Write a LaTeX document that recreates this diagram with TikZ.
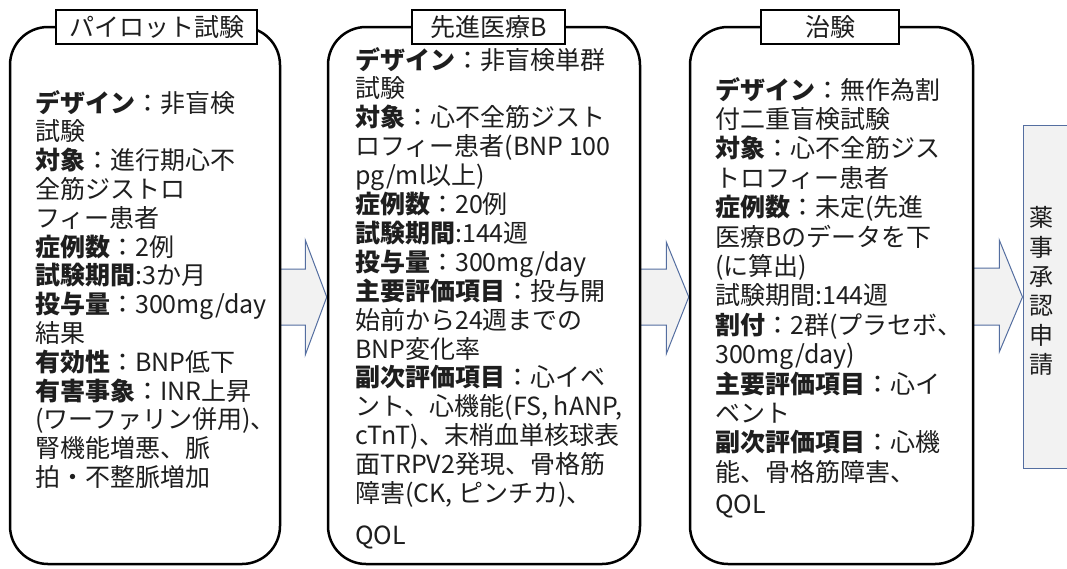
\documentclass[tikz,border=0pt]{standalone}
\usepackage{fontspec}
\setmainfont{Noto Sans CJK JP}
\usetikzlibrary{calc}
\definecolor{arrowblue}{RGB}{84,110,160}
\definecolor{lightfill}{RGB}{242,242,242}
\definecolor{textgray}{RGB}{30,30,30}
\pgfdeclarelayer{bg}
\pgfsetlayers{bg,main}
\begin{document}
\begin{tikzpicture}[x=1pt,y=-1pt,
  bigbox/.style={draw=black, line width=2.5pt, fill=white, rounded corners=38pt,
    minimum width=#1, minimum height=537pt, inner sep=0pt},
  titlebox/.style={draw=black, line width=1.5pt, fill=white, minimum width=#1,
    minimum height=34pt, inner sep=0pt, text=textgray, font=\fontsize{25}{29}\selectfont},
  appbox/.style={draw=arrowblue, line width=1pt, fill=lightfill,
    minimum width=80pt, minimum height=343pt, inner sep=0pt},
  barrow/.style={draw=arrowblue, line width=1pt, fill=lightfill, line join=miter},
  txt/.style={anchor=base west, inner sep=0pt, text=textgray, font=\fontsize{25}{29}\selectfont}]
\useasboundingbox (0,0) rectangle (1067,568);

% main boxes
\node[bigbox=270pt] (b1) at (145,295.5) {};
\node[bigbox=312pt] (b2) at (484,295.5) {};
\node[bigbox=283pt] (b3) at (831.5,295.5) {};
\node[appbox] (b4) at (1063,296.5) {};

% block arrows (behind boxes)
\begin{pgfonlayer}{bg}
\fill[white] (0,0) rectangle (1067,568);
\draw[barrow] ($(b1.east)+(-3,-26.5)$) -- ++(27,0) -- ++(0,-29) -- ($(b2.west)+(0,1.5)$)
  -- ($(b1.east)+(24,59.5)$) -- ++(0,-30) -- ($(b1.east)+(-3,29.5)$) -- cycle;
\draw[barrow] ($(b2.east)+(-3,-26.5)$) -- ++(28,0) -- ++(0,-27) -- ($(b3.west)+(0,1.5)$)
  -- ($(b2.east)+(25,58.5)$) -- ++(0,-29) -- ($(b2.east)+(-3,29.5)$) -- cycle;
\draw[barrow] ($(b3.east)+(-3,-27.5)$) -- ++(28,0) -- ++(0,-28) -- ($(b4.west)+(0,0.5)$)
  -- ($(b3.east)+(25,56.5)$) -- ++(0,-27) -- ($(b3.east)+(-3,29.5)$) -- cycle;
\end{pgfonlayer}

% titles
\node[titlebox=201pt] (t1) at (156.5,27) {パイロット試験};
\node[titlebox=153pt] (t2) at (488.5,27) {先進医療B};
\node[titlebox=138pt] (t3) at (830,27) {治験};

% box 1 text
\foreach \t [count=\i from 0] in {
  \textbf{デザイン}：非盲検,
  試験,
  \textbf{対象}：進行期心不,
  全筋ジストロ,
  フィー患者,
  \textbf{症例数}：2例,
  \textbf{試験期間}:3か月,
  \textbf{投与量}：300mg/day,
  結果,
  \textbf{有効性}：BNP低下,
  \textbf{有害事象}：INR上昇,
  (ワーファリン併用)、,
  腎機能増悪、脈,
  拍・不整脈増加}
  {\node[txt, name=pa\i] at (35,112+28.8*\i) {\t};}

% box 2 text
\foreach \t [count=\i from 0] in {
  \textbf{デザイン}：非盲検単群,
  試験,
  \textbf{対象}：心不全筋ジスト,
  ロフィー患者(BNP 100,
  pg/ml以上),
  \textbf{症例数}：20例,
  \textbf{試験期間}:144週,
  \textbf{投与量}：300mg/day,
  \textbf{主要評価項目}：投与開,
  始前から24週までの,
  BNP変化率,
  \textbf{副次評価項目}：心イベ,
  {ント、心機能(FS, hANP,},
  cTnT)、末梢血単核球表,
  面TRPV2発現、骨格筋,
  {障害(CK, ピンチカ)、}}
  {\node[txt, name=sb\i] at (355,69+28.9*\i) {\t};}
\node[txt] (sbq) at (355,544) {QOL};

% box 3 text
\foreach \t [count=\i from 0] in {
  \textbf{デザイン}：無作為割,
  付二重盲検試験,
  \textbf{対象}：心不全筋ジス,
  トロフィー患者,
  \textbf{症例数}：未定(先進,
  医療Bのデータを下,
  (に算出),
  試験期間:144週,
  \textbf{割付}：2群(プラセボ、,
  300mg/day),
  \textbf{主要評価項目}：心イ,
  ベント,
  \textbf{副次評価項目}：心機,
  能、骨格筋障害、}
  {\node[txt, name=ch\i] at (715,99+29.4*\i) {\t};}
\node[txt] (chq) at (715,513) {QOL};

% approval text
\node[inner sep=0pt, align=center, text=textgray, font=\fontsize{24}{29.3}\selectfont] (apptext) at (1041,291)
  {薬\\事\\承\\認\\申\\請};
\end{tikzpicture}
\end{document}
